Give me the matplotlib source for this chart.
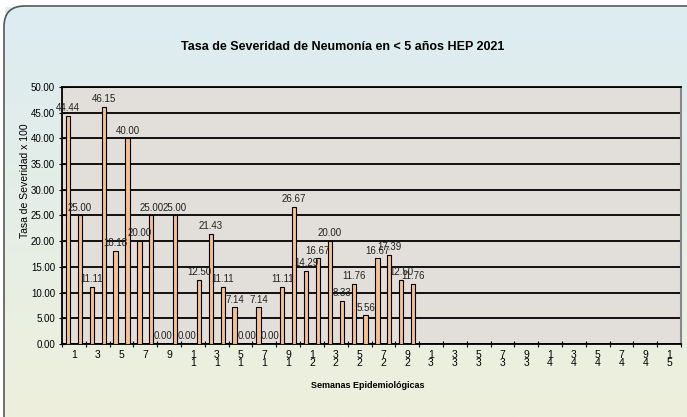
#Tasa de Severidad de Neumonia en < 5 anos HEP 2021 - bar chart
import matplotlib.pyplot as plt
import numpy as np
from matplotlib.patches import FancyBboxPatch

#weekly data (semanas epidemiologicas 1-30, axis runs to 52)
semanas = list(range(1, 31))
tasa = [44.44, 25.00, 11.11, 46.15, 18.18, 40.00, 20.00, 25.00, 0.00, 25.00,
        0.00, 12.50, 21.43, 11.11, 7.14, 0.00, 7.14, 0.00, 11.11, 26.67,
        14.29, 16.67, 20.00, 8.33, 11.76, 5.56, 16.67, 17.39, 12.50, 11.76]
total_semanas = 52
etiquetas_x = [str(s) for s in range(1, total_semanas, 2)]
y_ticks = [0, 5, 10, 15, 20, 25, 30, 35, 40, 45, 50]

plt.rcParams['font.family'] = ['Liberation Sans', 'DejaVu Sans']

fig = plt.figure(figsize=(6.87, 4.17), dpi=100)

#background gradient + rounded frame
bg = fig.add_axes([0, 0, 1, 1], zorder=0)
grad = np.linspace(0, 1, 256).reshape(-1, 1)
top_c = np.array([220, 236, 242]) / 255
bot_c = np.array([238, 240, 220]) / 255
img = top_c * (1 - grad[..., None]) + bot_c * grad[..., None]
img = np.repeat(img, 2, axis=1)
bg.imshow(img, aspect='auto', extent=[0, 1, 0, 1])
bg.set_xlim(0, 1)
bg.set_ylim(0, 1)
bg.axis('off')
frame = FancyBboxPatch((4 / 687, -0.1), 1.1, 1 - 6 / 417 + 0.1,
                       boxstyle="round,pad=0,rounding_size=0.03",
                       transform=bg.transAxes, facecolor='none',
                       edgecolor='#555555', linewidth=1.2, mutation_aspect=687 / 417)
bg.add_patch(frame)
#white outside the frame (left / top strip)
bg.axvspan(0, 3.5 / 687, color='white', zorder=0.5)
bg.axhspan(1 - 5.5 / 417, 1, color='white', zorder=0.5)

ax = fig.add_axes([62 / 687, 1 - 344 / 417, 619 / 687, 257 / 417], zorder=1)
ax.set_facecolor('#e2deda')

bars = ax.bar(semanas, tasa, width=0.36, color='#f9c08f', edgecolor='black',
              linewidth=0.8, zorder=3)
ax.bar_label(bars, labels=[f"{v:.2f}" for v in tasa], padding=2, fontsize=7,
             color='#222222', zorder=4)

ax.set_xlim(0.5, total_semanas + 0.5)
ax.set_ylim(0, 50)
ax.set_yticks(y_ticks)
ax.set_yticklabels([f"{v:.2f}" for v in y_ticks], fontsize=7)
ax.yaxis.grid(True, color='black', linewidth=1.3, zorder=1)
ax.set_axisbelow(True)

#labels centred on every second category boundary, digits stacked
ax.set_xticks([int(s) + 0.5 for s in etiquetas_x])
ax.set_xticklabels(["\n".join(s[::-1]) for s in etiquetas_x], fontsize=7.5,
                   linespacing=0.75, va='top')
ax.set_xticks(np.arange(0.5, total_semanas + 1, 1), minor=True)
ax.tick_params(axis='x', which='major', length=0, pad=4)
ax.tick_params(axis='x', which='minor', length=4, direction='inout', width=0.8)
ax.tick_params(axis='y', length=4, direction='inout', width=0.8, pad=3)

for s in ['left', 'bottom', 'top']:
    ax.spines[s].set_color('black')
    ax.spines[s].set_linewidth(1.3)
ax.spines['right'].set_color('#888888')
ax.spines['right'].set_linewidth(1.5)

fig.text(343 / 687, 1 - 47 / 417, 'Tasa de Severidad de Neumonía en < 5 años HEP 2021',
         ha='center', va='center', fontsize=9, fontweight='bold')
fig.text(368 / 687, 1 - 385 / 417, 'Semanas Epidemiológicas', ha='center',
         va='center', fontsize=6.5, fontweight='bold')
fig.text(25 / 687, 1 - 181 / 417, 'Tasa de Severidad x 100', ha='center',
         va='center', fontsize=7.5, rotation=90)

plt.savefig('out.png', dpi=100)
plt.close()
